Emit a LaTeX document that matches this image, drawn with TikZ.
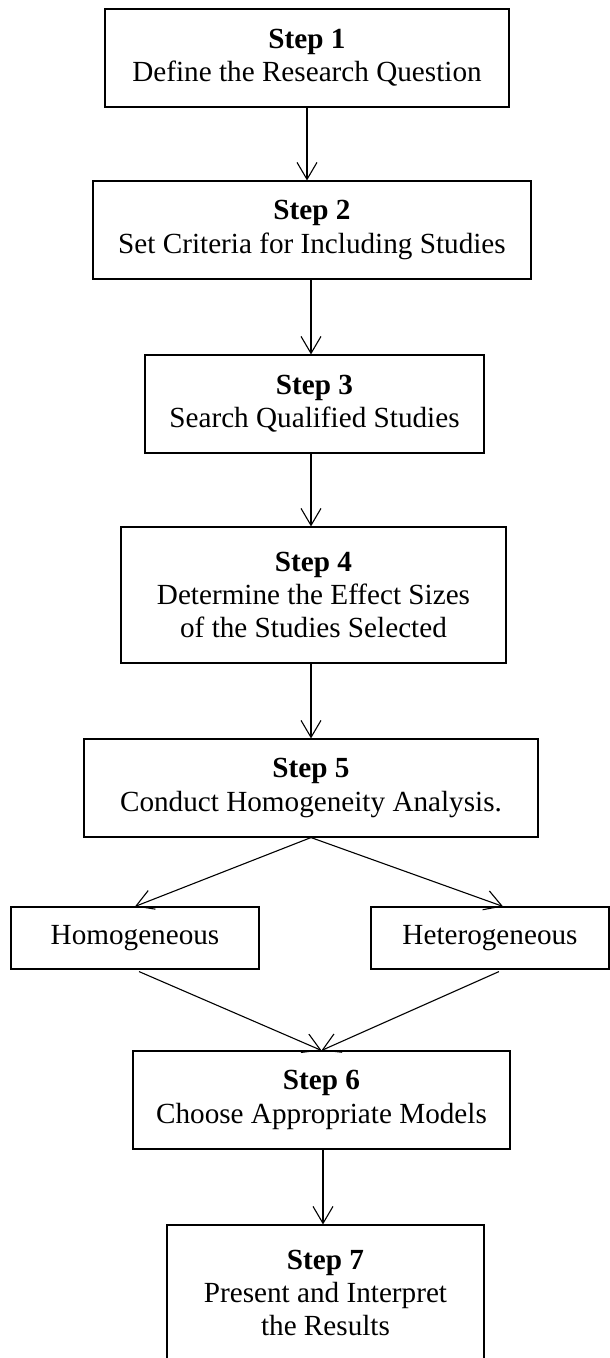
\documentclass[tikz,border=0pt]{standalone}
\usepackage{fontspec}
\setmainfont{Liberation Serif}
\usetikzlibrary{arrows.meta,calc}
\begin{document}
\begin{tikzpicture}[x=1bp,y=-1bp,
  box/.style={draw,line width=1.1bp,rectangle,align=center,inner sep=0pt,
    font=\fontsize{29.3}{33.5}\selectfont},
  arr/.style={line width=1.1bp,-{Straight Barb[length=17bp,width=20bp]}}]
\useasboundingbox (0,0) rectangle (610,1358);
\node[box,minimum width=404bp,minimum height=98bp] (b1) at (307,58) {\textbf{Step 1}\\Define the Research Question};
\node[box,minimum width=438bp,minimum height=98bp] (b2) at (312,230) {\textbf{Step 2}\\Set Criteria for Including Studies};
\node[box,minimum width=339bp,minimum height=98bp] (b3) at (314.5,404) {\textbf{Step 3}\\Search Qualified Studies};
\node[box,minimum width=385bp,minimum height=136bp] (b4) at (313.5,595) {\textbf{Step 4}\\Determine the Effect Sizes\\of the Studies Selected};
\node[box,minimum width=454bp,minimum height=98bp] (b5) at (311,788) {\textbf{Step 5}\\Conduct Homogeneity Analysis.};
\node[box,minimum width=248bp,minimum height=62bp] (h1) at (135,938) {Homogeneous};
\node[box,minimum width=238bp,minimum height=62bp] (h2) at (490,938) {Heterogeneous};
\node[box,minimum width=377bp,minimum height=98bp] (b6) at (321.5,1100) {\textbf{Step 6}\\Choose Appropriate Models};
\node[box,minimum width=317bp,minimum height=136bp] (b7) at (325.5,1293) {\textbf{Step 7}\\Present and Interpret\\the Results};
\coordinate (ax) at (311,0);
\coordinate (cx) at (323,0);
\draw[arr] (b1.south) -- (b1.south |- b2.north);
\draw[arr] (b2.south -| ax) -- (b3.north -| ax);
\draw[arr] (b3.south -| ax) -- (b4.north -| ax);
\draw[arr] (b4.south -| ax) -- (b5.north -| ax);
\draw[arr] (b5.south) -- (h1.north);
\draw[arr] (b5.south) -- ($(h2.north)+(13,0)$);
\draw[arr] ($(h1.south)+(4,2)$) -- (b6.north);
\draw[arr] ($(h2.south)+(9,2)$) -- (b6.north);
\draw[arr] (b6.south -| cx) -- (b7.north -| cx);
\end{tikzpicture}
\end{document}
